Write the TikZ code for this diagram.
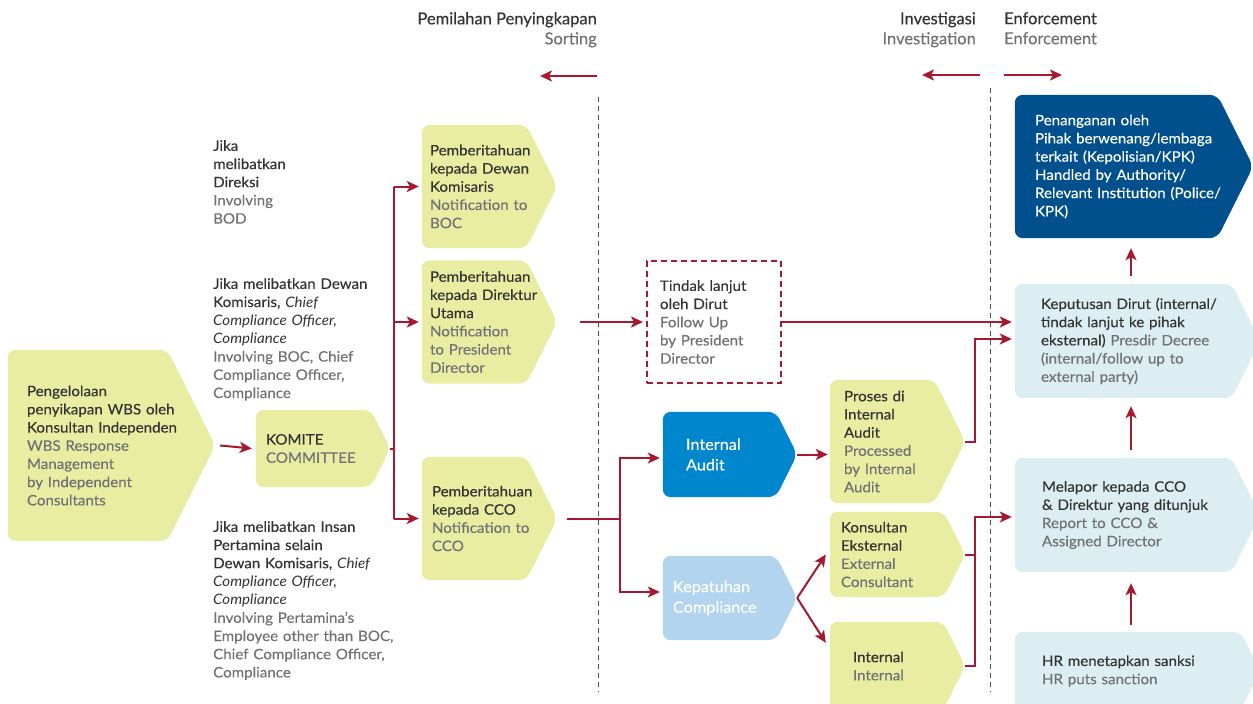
\documentclass[tikz,border=0pt]{standalone}
\usepackage{fontspec}
\setmainfont{Lato}[FakeStretch=1.05, UprightFeatures={FakeBold=0.3}]
\newfontfamily\headfont[FakeBold=0.3]{Lato}
\usetikzlibrary{arrows.meta,calc,backgrounds}

\definecolor{lime}{RGB}{233,237,162}
\definecolor{iablue}{RGB}{0,134,204}
\definecolor{skyblue}{RGB}{178,212,238}
\definecolor{navy}{RGB}{0,80,142}
\definecolor{mist}{RGB}{220,238,242}
\definecolor{wbsred}{RGB}{166,25,46}
\definecolor{ink}{RGB}{51,51,51}
\definecolor{mute}{RGB}{112,113,116}

\newcommand\wbstext{\fontsize{14.4}{18.2}\selectfont}
\newcommand\wbsbig{\fontsize{15.5}{20.5}\selectfont}

% chevron behind a named node, tip at its east anchor
\newcommand\chevfill[2]{%
  \begin{pgfonlayer}{background}
    \fill[#2, rounded corners=8pt] let \p1=(#1.north east), \p2=(#1.east) in
      (#1.north west) -- ([xshift={-0.5*(\y1-\y2)}]#1.north east) -- (#1.east)
      -- ([xshift={-0.5*(\y1-\y2)}]#1.south east) -- (#1.south west) -- cycle;
  \end{pgfonlayer}}

\tikzset{
  flow/.style={draw=wbsred, line width=2pt, -{Stealth[length=12pt,width=11pt,inset=3pt]}},
  link/.style={draw=wbsred, line width=2pt},
  stage/.style={rectangle, inner xsep=#1, inner ysep=0pt, align=left, text=ink, font=\wbstext},
  stage/.default=10pt,
  note/.style={anchor=north west, inner sep=0pt, align=left, text=ink, font=\wbstext, text width=195pt},
  head/.style={inner sep=0pt, font=\headfont\fontsize{16.5}{20}\selectfont, text=ink},
  guide/.style={black!70, dash pattern=on 5pt off 4pt, line width=0.8pt},
}

\begin{document}
\begin{tikzpicture}[x=1pt, y=-1pt]
\useasboundingbox (0,0) rectangle (1253,704);

% headings
\node[head, anchor=north east, align=right] (sorthead) at (597,12)
  {Pemilahan Penyingkapan\\\color{mute}Sorting};
\node[head, anchor=north east, align=right] (invhead) at (976,12)
  {Investigasi\\\color{mute}Investigation};
\node[head, anchor=north west, align=left] (enfhead) at (1004,12)
  {Enforcement\\\color{mute}Enforcement};

\coordinate (s1) at (597,76);  \coordinate (s2) at (540,76);
\coordinate (i1) at (980,75);  \coordinate (i2) at (922,75);
\coordinate (e1) at (1004,75); \coordinate (e2) at (1062,75);
\draw[flow] (s1) -- (s2);
\draw[flow] (i1) -- (i2);
\draw[flow] (e1) -- (e2);

\draw[guide] (598,97) -- (598,692);
\draw[guide] (990,88) -- (990,692);

% conditions
\node[note] (bod) at (213,140)
  {Jika\\melibatkan\\Direksi\\\color{mute}Involving\\BOD};
\node[note] (boc) at (213,278)
  {Jika melibatkan Dewan\\Komisaris, \textit{Chief}\\\textit{Compliance Officer,}\\\textit{Compliance}\\
   \color{mute}Involving BOC, Chief\\Compliance Officer,\\Compliance};
\node[note] (staff) at (213,521)
  {Jika melibatkan Insan\\Pertamina selain\\Dewan Komisaris, \textit{Chief}\\\textit{Compliance Officer,}\\\textit{Compliance}\\
   \color{mute}Involving Pertamina's\\Employee other than BOC,\\Chief Compliance Officer,\\Compliance};

% sorting
\node[stage=19pt, minimum width=207pt, minimum height=191pt, text width=169pt] (mgmt) at (111.5,445.5)
  {Pengelolaan\\penyikapan WBS oleh\\Konsultan Independen\\\color{mute}WBS Response\\Management\\by Independent\\Consultants};
\chevfill{mgmt}{lime}
\node[stage=10pt, minimum width=134pt, minimum height=77pt, text width=114pt] (komite) at (323,448.5)
  {KOMITE\\\color{mute}COMMITTEE};
\chevfill{komite}{lime}
\node[stage=8pt, minimum width=135pt, minimum height=123pt, text width=119pt] (nboc) at (489.5,186.5)
  {Pemberitahuan\\kepada Dewan\\Komisaris\\\color{mute}Notification to\\BOC};
\chevfill{nboc}{lime}
\node[stage=8pt, minimum width=135pt, minimum height=123pt, text width=119pt] (ndirut) at (489.5,322)
  {Pemberitahuan\\kepada Direktur\\Utama\\\color{mute}Notification\\to President\\Director};
\chevfill{ndirut}{lime}
\node[stage=10pt, minimum width=135pt, minimum height=123pt, text width=115pt] (ncco) at (489.5,518.5)
  {Pemberitahuan\\kepada CCO\\\color{mute}Notification to\\CCO};
\chevfill{ncco}{lime}

% investigation
\node[stage=13pt, minimum width=134pt, minimum height=122pt, text width=108pt,
      draw=wbsred, line width=2pt, dash pattern=on 6pt off 4pt] (dirut) at (714,322)
  {Tindak lanjut\\oleh Dirut\\\color{mute}Follow Up\\by President\\Director};
\node[stage=23pt, minimum width=134pt, minimum height=85pt, text width=88pt, text=white, font=\wbsbig] (ia) at (730,454.5)
  {Internal\\Audit};
\chevfill{ia}{iablue}
\node[stage=10pt, minimum width=134pt, minimum height=84pt, text width=114pt, text=white, font=\wbsbig] (comp) at (730,598)
  {Kepatuhan\\Compliance};
\chevfill{comp}{skyblue}
\node[stage=14pt, minimum width=135pt, minimum height=123pt, text width=107pt] (proses) at (897.5,441.5)
  {Proses di\\Internal\\Audit\\\color{mute}Processed\\by Internal\\Audit};
\chevfill{proses}{lime}
\node[stage=11pt, minimum width=135pt, minimum height=85pt, text width=113pt] (ext) at (897.5,554.5)
  {Konsultan\\Eksternal\\\color{mute}External\\Consultant};
\chevfill{ext}{lime}
\node[stage=23pt, minimum width=135pt, minimum height=88pt, text width=89pt] (int) at (897.5,666)
  {Internal\\\color{mute}Internal};
\chevfill{int}{lime}

% enforcement
\node[stage=20pt, minimum width=238pt, minimum height=143pt, text width=198pt, text=white] (police) at (1134,166.5)
  {Penanganan oleh\\Pihak berwenang/lembaga\\terkait (Kepolisian/KPK)\\Handled by Authority/\\Relevant Institution (Police/\\KPK)};
\chevfill{police}{navy}
\node[stage=26pt, minimum width=245pt, minimum height=114pt, text width=193pt] (decree) at (1137.5,341)
  {Keputusan Dirut (internal/\\tindak lanjut ke pihak\\eksternal) {\color{mute}Presdir Decree}\\\color{mute}(internal/follow up to\\external party)};
\chevfill{decree}{mist}
\node[stage=27pt, minimum width=245pt, minimum height=114pt, text width=191pt] (report) at (1137.5,515)
  {Melapor kepada CCO\\\& Direktur yang ditunjuk\\\color{mute}Report to CCO \&\\Assigned Director};
\chevfill{report}{mist}
\node[stage=27pt, minimum width=245pt, minimum height=78pt, text width=191pt] (hr) at (1137.5,671)
  {HR menetapkan sanksi\\\color{mute}HR puts sanction};
\chevfill{hr}{mist}

% connectors
\coordinate (split) at (394,448.5);
\coordinate (fork) at (620,518.5);
\coordinate (col) at (1131,0);

\draw[flow] ([xshift=5pt]mgmt.east) -- ([xshift=-4pt]komite.west);
\draw[link] (komite.east) -- (split);
\draw[link] (split |- nboc.west) -- (split |- ncco.west);
\draw[flow] (split |- nboc.west) -- ([xshift=-3pt]nboc.west);
\draw[flow] (split |- ndirut.west) -- ([xshift=-3pt]ndirut.west);
\draw[flow] (split |- ncco.west) -- ([xshift=-3pt]ncco.west);

\draw[flow] ([xshift=23pt]ndirut.east) -- ([xshift=-3pt]dirut.west);
\draw[flow] (dirut.east) -- ([xshift=-3pt]decree.west |- dirut.east);

\draw[link] ([xshift=10pt]ncco.east) -- (fork);
\draw[flow] (fork) |- ([xshift=-3pt,yshift=-3.5pt]ia.west);
\draw[flow] (fork) |- ([xshift=-3pt,yshift=6pt]comp.west);
\draw[flow] (ia.east) -- ([xshift=-2pt]proses.west |- ia.east);
\draw[flow] (comp.east) -- ([xshift=-4pt]ext.west);
\draw[flow] (comp.east) -- ([xshift=-4pt,yshift=-21pt]int.north west);

\draw[flow] (proses.east) -- ++(10,0) |- ([xshift=-3pt,yshift=2pt]decree.west);
\draw[link] (ext.east) -- ++(10,0);
\draw[flow] (int.east) -- ++(10,0) |- ([xshift=-3pt,yshift=-2pt]report.west);

\draw[flow] ($(col |- decree.north)+(0,-8)$) -- ($(col |- police.south)+(0,10)$);
\draw[flow] ($(col |- report.north)+(0,-8)$) -- ($(col |- decree.south)+(0,8)$);
\draw[flow] ($(col |- hr.north)+(0,-7)$) -- ($(col |- report.south)+(0,11)$);
\end{tikzpicture}
\end{document}
